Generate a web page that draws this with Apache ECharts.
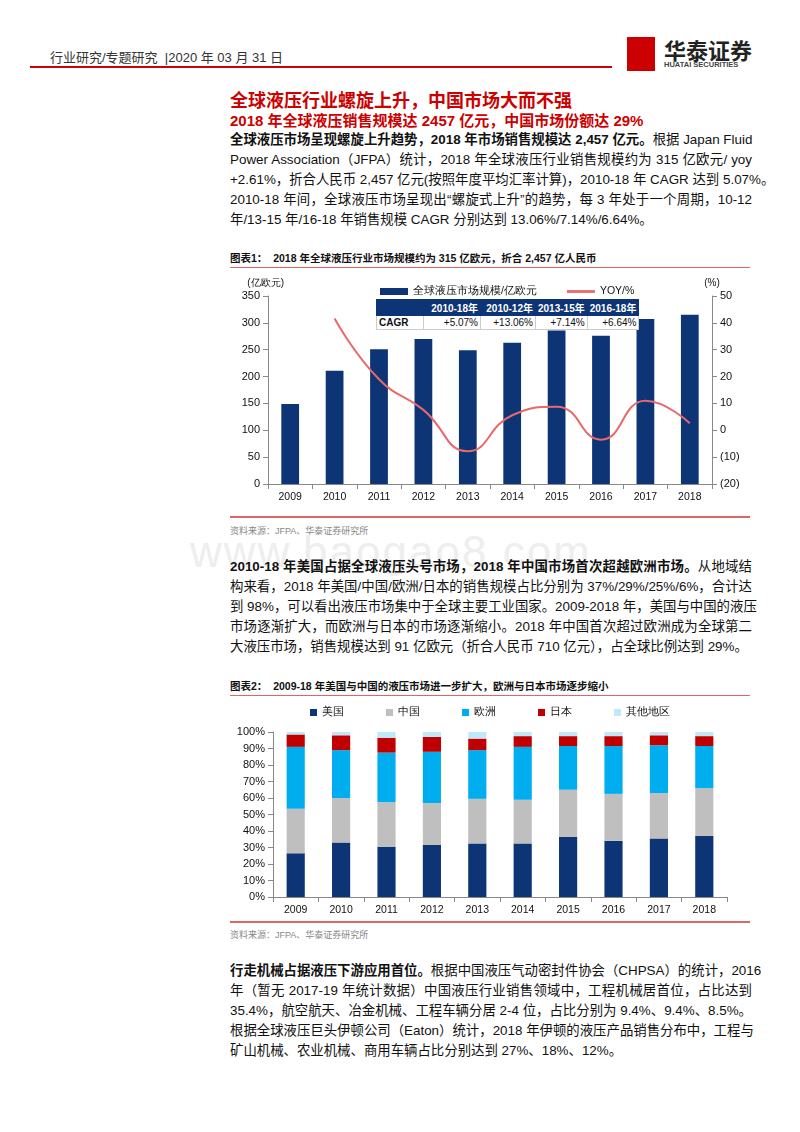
<!DOCTYPE html>
<html><head><meta charset="utf-8">
<script src="https://cdn.jsdelivr.net/npm/echarts@6/dist/echarts.min.js"></script>
<style>
body{margin:0;width:800px;height:1132px;position:relative;background:#fff;font-family:"Liberation Sans","Noto Sans CJK SC",sans-serif;color:#111;overflow:hidden}
.a{position:absolute;white-space:nowrap}
.p{position:absolute;left:230px;width:522px;font-size:13.4px;line-height:20px}
.p div{white-space:nowrap;text-align:justify;text-align-last:justify;height:20px}
.p div.l{text-align-last:left}
.cap{position:absolute;left:230px;width:520px;font-size:10.5px;font-weight:bold;border-bottom:1.5px solid #d66;padding-bottom:2px;white-space:nowrap}
.src{position:absolute;left:230px;font-size:9px;color:#888}
table.c{position:absolute;border-collapse:collapse;font-size:10px;white-space:nowrap;background:#fff}
table.c td{padding:0 2px;height:13px;text-align:right;border:1px solid #ccc}
</style></head><body>
<div class="a" style="left:50px;top:47px;font-size:13px;color:#333">行业研究/专题研究 &nbsp;|2020 年 03 月 31 日</div>
<div class="a" style="left:30px;top:66px;width:582px;height:2px;background:#c00"></div>
<div class="a" style="left:627px;top:37px;width:28px;height:34px;background:#c00"></div>
<div class="a" style="left:664px;top:33px;font-size:22px;font-weight:bold;color:#222">华泰证券</div>
<div class="a" style="left:664px;top:60px;font-size:7.5px;font-weight:bold;color:#444">HUATAI SECURITIES</div>
<div class="a" style="left:230px;top:86px;font-size:18px;font-weight:bold;color:#c00">全球液压行业螺旋上升，中国市场大而不强</div>
<div class="a" style="left:230px;top:109px;font-size:15px;font-weight:bold;color:#c00">2018 年全球液压销售规模达 2457 亿元，中国市场份额达 29%</div>
<div class="p" style="top:130px">
<div><b>全球液压市场呈现螺旋上升趋势，2018 年市场销售规模达 2,457 亿元。</b>根据 Japan Fluid</div>
<div>Power Association（JFPA）统计，2018 年全球液压行业销售规模约为 315 亿欧元/ yoy</div>
<div>+2.61%，折合人民币 2,457 亿元(按照年度平均汇率计算)，2010-18 年 CAGR 达到 5.07%。</div>
<div>2010-18 年间，全球液压市场呈现出“螺旋式上升”的趋势，每 3 年处于一个周期，10-12</div>
<div class="l">年/13-15 年/16-18 年销售规模 CAGR 分别达到 13.06%/7.14%/6.64%。</div></div>
<div class="cap" style="top:250px">图表1：&nbsp; 2018 年全球液压行业市场规模约为 315 亿欧元，折合 2,457 亿人民币</div>
<div id="c1" class="a" style="left:230px;top:270px;width:520px;height:246px"></div>
<table class="c" style="left:376px;top:299px">
<tr style="background:#0d3474;color:#fff;font-weight:bold"><td style="width:42px;border-color:#0d3474"></td><td style="width:52px;border-color:#0d3474">2010-18年</td><td style="width:50px;border-color:#0d3474">2010-12年</td><td style="width:44px;border-color:#0d3474">2013-15年</td><td style="width:44px;border-color:#0d3474">2016-18年</td></tr>
<tr><td style="text-align:left;font-weight:bold">CAGR</td><td>+5.07%</td><td>+13.06%</td><td>+7.14%</td><td>+6.64%</td></tr></table>
<div class="a" style="left:230px;top:516px;width:520px;height:1.5px;background:#d66"></div>
<div class="src" style="top:524px">资料来源：JFPA、华泰证券研究所</div>
<div class="a" style="left:190px;top:527px;font-size:44px;color:#eee;letter-spacing:2px">www.baogao8.com</div>
<div class="p" style="top:557px">
<div><b>2010-18 年美国占据全球液压头号市场，2018 年中国市场首次超越欧洲市场。</b>从地域结</div>
<div>构来看，2018 年美国/中国/欧洲/日本的销售规模占比分别为 37%/29%/25%/6%，合计达</div>
<div>到 98%，可以看出液压市场集中于全球主要工业国家。2009-2018 年，美国与中国的液压</div>
<div>市场逐渐扩大，而欧洲与日本的市场逐渐缩小。2018 年中国首次超过欧洲成为全球第二</div>
<div class="l">大液压市场，销售规模达到 91 亿欧元（折合人民币 710 亿元），占全球比例达到 29%。</div></div>
<div class="cap" style="top:678px">图表2：&nbsp; 2009-18 年美国与中国的液压市场进一步扩大，欧洲与日本市场逐步缩小</div>
<div id="c2" class="a" style="left:230px;top:696px;width:520px;height:224px"></div>
<div class="a" style="left:230px;top:921px;width:520px;height:1.5px;background:#d66"></div>
<div class="src" style="top:928px">资料来源：JFPA、华泰证券研究所</div>
<div class="p" style="top:961px">
<div><b>行走机械占据液压下游应用首位。</b>根据中国液压气动密封件协会（CHPSA）的统计，2016</div>
<div>年（暂无 2017-19 年统计数据）中国液压行业销售领域中，工程机械居首位，占比达到</div>
<div>35.4%，航空航天、冶金机械、工程车辆分居 2-4 位，占比分别为 9.4%、9.4%、8.5%。</div>
<div>根据全球液压巨头伊顿公司（Eaton）统计，2018 年伊顿的液压产品销售分布中，工程与</div>
<div class="l">矿山机械、农业机械、商用车辆占比分别达到 27%、18%、12%。</div></div>
<script>
const years=['2009','2010','2011','2012','2013','2014','2015','2016','2017','2018'];
const marketSize=[149,211,251,270,249,263,286,276,307,315];
const yoy=[null,41.6,19.0,7.6,-7.8,5.6,8.8,-3.5,11.0,2.6];
const usa=[26.5,33,30.5,31.5,32.5,32.5,36.5,34,35.5,37];
const china=[27,27,27,25.5,27,26.5,28.5,28.5,27.5,29];
const europe=[37.5,29,30,31,29.5,32,26.5,29,29,25.5];
const japan=[7.5,9,9,9,7,6.5,6,6,6,6];
const others=[1.5,2,3.5,3,4,2.5,2.5,2.5,2,2.5];
const ax={axisLine:{show:true,lineStyle:{color:'#888'}},axisTick:{show:true,lineStyle:{color:'#888'}},splitLine:{show:false},axisLabel:{color:'#111',fontSize:11}};
const c1=echarts.init(document.getElementById('c1'));
c1.setOption({animation:false,
 grid:{left:38,right:38,top:26,bottom:32},
 legend:{top:11,left:145,itemGap:30,itemWidth:28,itemHeight:7,textStyle:{fontSize:10.5,color:'#111'},data:[{name:'全球液压市场规模/亿欧元',icon:'rect'},{name:'YOY/%',icon:'path://M0 0H30V3H0Z'}]},
 xAxis:{type:'category',data:years,...ax,axisLabel:{color:'#111',fontSize:10.5}},
 yAxis:[{type:'value',min:0,max:350,interval:50,...ax,name:'(亿欧元)',nameGap:8,nameTextStyle:{fontSize:10,color:'#111',align:'right',padding:[0,-16,0,0]}},
  {type:'value',min:-20,max:50,interval:10,...ax,name:'(%)',nameGap:8,nameTextStyle:{fontSize:10,color:'#111'},axisLabel:{color:'#111',fontSize:11,formatter:v=>v<0?'('+(-v)+')':v}}],
 series:[{name:'全球液压市场规模/亿欧元',type:'bar',data:marketSize,barWidth:'40%',itemStyle:{color:'#0d3474'}},
  {name:'YOY/%',type:'line',yAxisIndex:1,data:yoy,smooth:true,symbol:'none',lineStyle:{color:'#e8686b',width:2},itemStyle:{color:'#e8686b'}}]});
const c2=echarts.init(document.getElementById('c2'));
const mk=(n,d,c)=>({name:n,type:'bar',stack:'s',data:d,barWidth:'40%',itemStyle:{color:c}});
c2.setOption({animation:false,
 grid:{left:43,right:23,top:36,bottom:23},
 legend:{top:6,left:'center',itemGap:42,itemWidth:7,itemHeight:7,icon:'rect',textStyle:{fontSize:10.5,color:'#111'}},
 xAxis:{type:'category',data:years,...ax,axisLabel:{color:'#111',fontSize:10.5}},
 yAxis:{type:'value',min:0,max:100,interval:10,...ax,axisLabel:{color:'#111',fontSize:11,formatter:'{value}%'}},
 series:[mk('美国',usa,'#0d3474'),mk('中国',china,'#bfbfbf'),mk('欧洲',europe,'#00aeef'),mk('日本',japan,'#c00000'),mk('其他地区',others,'#bfe9f9')]});
</script>
</body></html>
